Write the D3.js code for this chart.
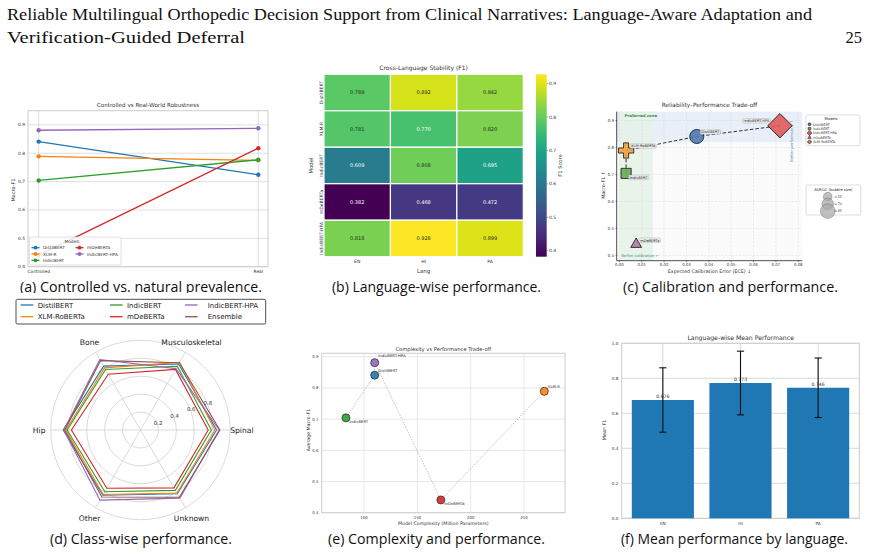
<!DOCTYPE html>
<html>
<head>
<meta charset="utf-8">
<script src="https://cdn.jsdelivr.net/npm/d3@7"></script>
<style>
  body { margin: 0; background: #fff; }
  svg { display: block; }
  text { font-family: "DejaVu Sans", sans-serif; }
</style>
</head>
<body>
<svg id="fig" width="870" height="554"></svg>
<script>
// ---- data ----
var modelColors = d3.schemeCategory10;

// (a) controlled vs real
var robustModels = ["DistilBERT", "XLM-R", "IndicBERT", "mDeBERTa", "IndicBERT-HPA"];
var robustSettings = ["Controlled", "Real"];
var robustF1 = [[0.841, 0.724], [0.789, 0.775], [0.704, 0.777], [0.441, 0.818], [0.881, 0.888]];

// (b) heatmap
var heatModels = ["DistilBERT", "XLM-R", "IndicBERT", "mDeBERTa", "IndicBERT-HPA"];
var heatLangs = ["EN", "HI", "PA"];
var heatF1 = [
  [0.789, 0.892, 0.842],
  [0.781, 0.770, 0.820],
  [0.609, 0.808, 0.695],
  [0.382, 0.468, 0.472],
  [0.818, 0.928, 0.899]
];

// (c) calibration vs performance
var calModels = ["DistilBERT", "IndicBERT", "IndicBERT-HPA", "mDeBERTa", "XLM-RoBERTa"];
var calECE = [0.0346, 0.0030, 0.0718, 0.0075, 0.0030];
var calF1 = [0.841, 0.704, 0.881, 0.441, 0.789];
var calAUROC = [0.82, 0.69, 0.86, 0.55, 0.73];
var calFrontier = ["IndicBERT", "XLM-RoBERTa", "DistilBERT", "IndicBERT-HPA"];
var aurocLegend = [0.55, 0.70, 0.85];

// (d) class-wise radar
var radarClasses = ["Spinal", "Musculoskeletal", "Bone", "Hip", "Other", "Unknown"];
var radarModels = ["DistilBERT", "XLM-RoBERTa", "IndicBERT", "mDeBERTa", "IndicBERT-HPA", "Ensemble"];
var radarF1 = [
  [0.848, 0.850, 0.822, 0.862, 0.840, 0.820],
  [0.829, 0.870, 0.800, 0.833, 0.830, 0.812],
  [0.790, 0.820, 0.779, 0.818, 0.795, 0.777],
  [0.755, 0.780, 0.718, 0.770, 0.750, 0.745],
  [0.877, 0.790, 0.907, 0.855, 0.903, 0.877],
  [0.885, 0.865, 0.893, 0.844, 0.862, 0.865]
];
var radarTicks = [0.2, 0.4, 0.6, 0.8];

// (e) complexity vs performance
var cxModels = ["IndicBERT", "DistilBERT", "IndicBERT-HPA", "mDeBERTa", "XLM-R"];
var cxParams = [83, 110, 110, 172, 269];
var cxF1 = [0.704, 0.841, 0.881, 0.441, 0.789];
var cxColors = ["#2ca02c", "#1f77b4", "#9467bd", "#d62728", "#ff7f0e"];

// (f) language means
var langNames = ["EN", "HI", "PA"];
var langMean = [0.676, 0.773, 0.746];
var langStd = [0.184, 0.182, 0.170];

var svg = d3.select("#fig");
var txt = "#333";

// ---- header & captions ----
function serifLine(x, y, s, len, anchor) {
  var t = svg.append("text").attr("x", x).attr("y", y).text(s)
    .style("font-family", "'Liberation Serif', serif").style("font-size", "16.5px").attr("fill", "#111");
  if (len) t.attr("textLength", len).attr("lengthAdjust", "spacingAndGlyphs");
  if (anchor) t.attr("text-anchor", anchor);
}
serifLine(7, 20, "Reliable Multilingual Orthopedic Decision Support from Clinical Narratives: Language-Aware Adaptation and", 805);
serifLine(7, 43, "Verification-Guided Deferral", 238);
serifLine(862, 43, "25", null, "end");

function caption(x, y, s, len) {
  svg.append("text").attr("x", x).attr("y", y).text(s)
    .style("font-family", "'Open Sans', sans-serif").style("font-size", "14px").attr("fill", "#111")
    .attr("textLength", len).attr("lengthAdjust", "spacingAndGlyphs");
}
caption(20, 292, "(a) Controlled vs. natural prevalence.", 242);
caption(332, 292, "(b) Language-wise performance.", 209);
caption(623, 292, "(c) Calibration and performance.", 215);
caption(50, 544, "(d) Class-wise performance.", 182);
caption(328, 544, "(e) Complexity and performance.", 217);
caption(621, 544, "(f) Mean performance by language.", 227);

// ---- (a) ----
(function () {
  var g = svg.append("g");
  var x = d3.scalePoint().domain(robustSettings).range([38.7, 258.3]);
  var y = d3.scaleLinear().domain([0.4, 0.95]).range([266.7, 110.7]);
  var x0 = 28, x1 = 268;
  g.selectAll(".gy").data(y.ticks(6)).enter().append("line")
    .attr("x1", x0).attr("x2", x1).attr("y1", y).attr("y2", y).attr("stroke", "#d5d5d5").attr("stroke-width", 0.8);
  g.selectAll(".gx").data(robustSettings).enter().append("line")
    .attr("x1", x).attr("x2", x).attr("y1", 110.7).attr("y2", 266.7).attr("stroke", "#d5d5d5").attr("stroke-width", 0.8);
  g.append("rect").attr("x", x0).attr("y", 110.7).attr("width", x1 - x0).attr("height", 156)
    .attr("fill", "none").attr("stroke", "#ccc").attr("stroke-width", 1);
  g.selectAll(".ty").data(y.ticks(6)).enter().append("text")
    .attr("x", 25).attr("y", function (d) { return y(d) + 1.5; }).attr("text-anchor", "end")
    .style("font-size", "4.4px").attr("fill", txt).text(d3.format(".1f"));
  g.selectAll(".tx").data(robustSettings).enter().append("text")
    .attr("x", x).attr("y", 273).attr("text-anchor", "middle")
    .style("font-size", "4.4px").attr("fill", txt).text(function (d) { return d; });
  g.append("text").attr("transform", "translate(15,190) rotate(-90)").attr("text-anchor", "middle")
    .style("font-size", "5px").attr("fill", txt).text("Macro-F1");
  g.append("text").attr("x", 148).attr("y", 106.5).attr("text-anchor", "middle")
    .style("font-size", "5.6px").attr("fill", txt).text("Controlled vs Real-World Robustness");

  var line = d3.line().x(function (d, i) { return x(robustSettings[i]); }).y(function (d) { return y(d); });
  robustModels.forEach(function (m, k) {
    g.append("path").attr("d", line(robustF1[k])).attr("fill", "none")
      .attr("stroke", modelColors[k]).attr("stroke-width", 1.3);
    g.selectAll(".p" + k).data(robustF1[k]).enter().append("circle")
      .attr("cx", function (d, i) { return x(robustSettings[i]); }).attr("cy", y)
      .attr("r", 2.2).attr("fill", modelColors[k]);
  });

  // legend
  var lg = g.append("g");
  lg.append("rect").attr("x", 29.5).attr("y", 237).attr("width", 91.5).attr("height", 28).attr("rx", 1.5)
    .attr("fill", "white").attr("fill-opacity", 0.85).attr("stroke", "#ccc").attr("stroke-width", 0.6);
  lg.append("text").attr("x", 72).attr("y", 243).attr("text-anchor", "middle")
    .style("font-size", "4.3px").attr("fill", txt).text("Models");
  robustModels.forEach(function (m, k) {
    var cx = k < 3 ? 31.5 : 75.5, cy = 247.7 + (k % 3) * 6.3;
    lg.append("line").attr("x1", cx).attr("x2", cx + 8).attr("y1", cy).attr("y2", cy)
      .attr("stroke", modelColors[k]).attr("stroke-width", 1.3);
    lg.append("circle").attr("cx", cx + 4).attr("cy", cy).attr("r", 1.9).attr("fill", modelColors[k]);
    lg.append("text").attr("x", cx + 11.5).attr("y", cy + 1.5).style("font-size", "4.3px").attr("fill", txt).text(m);
  });
})();

// ---- (b) heatmap ----
(function () {
  var g = svg.append("g");
  var x = d3.scaleBand().domain(heatLangs).range([324, 523.3]);
  var y = d3.scaleBand().domain(heatModels).range([74.3, 256.7]);
  var cmin = d3.min(heatF1, function (r) { return d3.min(r); });
  var cmax = d3.max(heatF1, function (r) { return d3.max(r); });
  var color = d3.scaleSequential(d3.interpolateViridis).domain([cmin, cmax]);
  function lum(c) {
    var rgb = d3.rgb(c);
    var f = function (v) { v /= 255; return v <= 0.03928 ? v / 12.92 : Math.pow((v + 0.055) / 1.055, 2.4); };
    return 0.2126 * f(rgb.r) + 0.7152 * f(rgb.g) + 0.0722 * f(rgb.b);
  }
  var cells = [];
  heatModels.forEach(function (m, i) { heatLangs.forEach(function (l, j) { cells.push({ m: m, l: l, v: heatF1[i][j] }); }); });
  g.selectAll("rect.c").data(cells).enter().append("rect")
    .attr("x", function (d) { return x(d.l); }).attr("y", function (d) { return y(d.m); })
    .attr("width", x.bandwidth()).attr("height", y.bandwidth())
    .attr("fill", function (d) { return color(d.v); }).attr("stroke", "white").attr("stroke-width", 1.2);
  g.selectAll("text.v").data(cells).enter().append("text")
    .attr("x", function (d) { return x(d.l) + x.bandwidth() / 2; })
    .attr("y", function (d) { return y(d.m) + y.bandwidth() / 2 + 1.8; })
    .attr("text-anchor", "middle").style("font-size", "5px")
    .attr("fill", function (d) { return lum(color(d.v)) > 0.408 ? "#262626" : "white"; })
    .text(function (d) { return d3.format(".3f")(d.v); });
  g.selectAll("text.r").data(heatModels).enter().append("text")
    .attr("transform", function (d) { return "translate(322.5," + (y(d) + y.bandwidth() / 2) + ") rotate(-90)"; })
    .attr("text-anchor", "middle").style("font-size", "4.6px").attr("fill", txt).text(function (d) { return d; });
  g.selectAll("text.l").data(heatLangs).enter().append("text")
    .attr("x", function (d) { return x(d) + x.bandwidth() / 2; }).attr("y", 263)
    .attr("text-anchor", "middle").style("font-size", "4.6px").attr("fill", txt).text(function (d) { return d; });
  g.append("text").attr("x", 423.6).attr("y", 272.5).attr("text-anchor", "middle")
    .style("font-size", "5.4px").attr("fill", txt).text("Lang");
  g.append("text").attr("transform", "translate(312.5,165.5) rotate(-90)").attr("text-anchor", "middle")
    .style("font-size", "5.4px").attr("fill", txt).text("Model");
  g.append("text").attr("x", 423.6).attr("y", 70).attr("text-anchor", "middle")
    .style("font-size", "6px").attr("fill", txt).text("Cross-Language Stability (F1)");

  // colorbar
  var cy = d3.scaleLinear().domain([cmin, cmax]).range([256.7, 74.3]);
  var grad = svg.append("defs").append("linearGradient").attr("id", "vir")
    .attr("x1", 0).attr("x2", 0).attr("y1", 1).attr("y2", 0);
  d3.range(0, 1.001, 0.05).forEach(function (t) {
    grad.append("stop").attr("offset", t).attr("stop-color", d3.interpolateViridis(t));
  });
  g.append("rect").attr("x", 536).attr("y", 74.3).attr("width", 10.7).attr("height", 182.4).attr("fill", "url(#vir)");
  var ct = [0.4, 0.5, 0.6, 0.7, 0.8, 0.9];
  g.selectAll("line.ct").data(ct).enter().append("line")
    .attr("x1", 546.7).attr("x2", 548.2).attr("y1", cy).attr("y2", cy).attr("stroke", "#444").attr("stroke-width", 0.5);
  g.selectAll("text.ct").data(ct).enter().append("text")
    .attr("x", 549).attr("y", function (d) { return cy(d) + 1.6; })
    .style("font-size", "4.5px").attr("fill", txt).text(d3.format(".1f"));
  g.append("text").attr("transform", "translate(562,165.5) rotate(-90)").attr("text-anchor", "middle")
    .style("font-size", "5.2px").attr("fill", txt).text("F1 Score");
})();

// ---- (c) reliability vs performance ----
(function () {
  var g = svg.append("g");
  var x = d3.scaleLinear().domain([-0.0012, 0.0818]).range([616.7, 802.3]);
  var y = d3.scaleLinear().domain([0.380, 0.933]).range([260.7, 111.7]);
  var L = 616.7, R = 802.3, T = 111.7, B = 260.7;
  g.append("rect").attr("x", L).attr("y", T).attr("width", R - L).attr("height", B - T).attr("fill", "#fbfbfb");
  g.append("rect").attr("x", L).attr("y", T).attr("width", R - L).attr("height", y(0.82) - T).attr("fill", "#e4ecf7").attr("opacity", 0.8);
  g.append("rect").attr("x", x(0)).attr("y", T).attr("width", x(0.015) - x(0)).attr("height", B - T).attr("fill", "#e3f1e6").attr("opacity", 0.8);
  var xt = d3.range(0, 0.0801, 0.01), yt = [0.4, 0.5, 0.6, 0.7, 0.8, 0.9];
  g.selectAll("line.gx").data(xt).enter().append("line")
    .attr("x1", x).attr("x2", x).attr("y1", T).attr("y2", B)
    .attr("stroke", "#d8d8d8").attr("stroke-width", 0.5).attr("stroke-dasharray", "2,1.5");
  g.selectAll("line.gy").data(yt).enter().append("line")
    .attr("x1", L).attr("x2", R).attr("y1", y).attr("y2", y)
    .attr("stroke", "#d8d8d8").attr("stroke-width", 0.5).attr("stroke-dasharray", "2,1.5");
  g.append("line").attr("x1", L).attr("x2", L).attr("y1", T).attr("y2", B).attr("stroke", "#222").attr("stroke-width", 0.8);
  g.append("line").attr("x1", L).attr("x2", R).attr("y1", B).attr("y2", B).attr("stroke", "#222").attr("stroke-width", 0.8);
  g.selectAll("text.xt").data(xt).enter().append("text")
    .attr("x", x).attr("y", 266).attr("text-anchor", "middle")
    .style("font-size", "3.9px").attr("fill", txt).text(d3.format(".2f"));
  g.selectAll("text.yt").data(yt).enter().append("text")
    .attr("x", 614).attr("y", function (d) { return y(d) + 1.4; }).attr("text-anchor", "end")
    .style("font-size", "3.9px").attr("fill", txt).text(d3.format(".1f"));
  g.selectAll("line.xtk").data(xt).enter().append("line")
    .attr("x1", x).attr("x2", x).attr("y1", B).attr("y2", B + 1.3).attr("stroke", "#222").attr("stroke-width", 0.5);
  g.selectAll("line.ytk").data(yt).enter().append("line")
    .attr("x1", L - 1.3).attr("x2", L).attr("y1", y).attr("y2", y).attr("stroke", "#222").attr("stroke-width", 0.5);
  g.append("text").attr("x", 709.5).attr("y", 273).attr("text-anchor", "middle")
    .style("font-size", "4.8px").attr("fill", txt).text("Expected Calibration Error (ECE) \u2193");
  g.append("text").attr("transform", "translate(605,185) rotate(-90)").attr("text-anchor", "middle")
    .style("font-size", "4.8px").attr("fill", txt).text("Macro-F1 \u2191");
  g.append("text").attr("x", 709.5).attr("y", 107).attr("text-anchor", "middle")
    .style("font-size", "5.8px").attr("fill", txt).text("Reliability\u2013Performance Trade-off");
  g.append("text").attr("x", 624.5).attr("y", 116.5).style("font-size", "3.9px").style("font-weight", "bold")
    .attr("fill", "#3d8a4d").text("Preferred zone");
  g.append("text").attr("x", 621.5).attr("y", 257).style("font-size", "3.8px")
    .attr("fill", "#3a9a7a").text("Better calibration \u2190");
  g.append("text").attr("transform", "translate(793,141) rotate(-90)").attr("text-anchor", "middle")
    .style("font-size", "3.8px").attr("fill", "#6a8cc0").text("Better performance \u2191");

  var shapes = {
    "DistilBERT": { t: d3.symbolCircle, c: "#4f79b3", k: 1.0, rot: 0 },
    "IndicBERT": { t: d3.symbolSquare, c: "#66aa55", k: 1.0, rot: 0 },
    "IndicBERT-HPA": { t: d3.symbolSquare, c: "#e05a5a", k: 1.7, rot: 45 },
    "mDeBERTa": { t: d3.symbolTriangle, c: "#b07aa8", k: 0.85, rot: 0 },
    "XLM-RoBERTa": { t: d3.symbolCross, c: "#f0a040", k: 1.1, rot: 0 }
  };
  var size = d3.scalePow().exponent(2.4).domain([0, 1]).range([0, 250]);

  var idx = {};
  calModels.forEach(function (m, i) { idx[m] = i; });
  var fl = d3.line().x(function (m) { return x(calECE[idx[m]]); }).y(function (m) { return y(calF1[idx[m]]); });
  g.append("path").attr("d", fl(calFrontier)).attr("fill", "none").attr("stroke", "#333")
    .attr("stroke-width", 1).attr("stroke-dasharray", "3.5,2");

  calModels.forEach(function (m, i) {
    var s = shapes[m];
    g.append("path").attr("d", d3.symbol().type(s.t).size(size(calAUROC[i]) * s.k)())
      .attr("transform", "translate(" + x(calECE[i]) + "," + y(calF1[i]) + ") rotate(" + s.rot + ")")
      .attr("fill", s.c).attr("fill-opacity", 0.9).attr("stroke", "#111").attr("stroke-width", 0.8);
  });

  // point labels
  var labelOff = {
    "DistilBERT": [4.5, -4.5, "start"], "IndicBERT": [3.5, 4, "start"], "IndicBERT-HPA": [-10.5, -4.8, "end"],
    "mDeBERTa": [4, -4, "start"], "XLM-RoBERTa": [5, -4.5, "start"]
  };
  calModels.forEach(function (m, i) {
    var o = labelOff[m];
    var lx = x(calECE[i]) + o[0], ly = y(calF1[i]) + o[1];
    var bg = g.append("rect");
    var t = g.append("text").attr("x", lx).attr("y", ly + 1.3).attr("text-anchor", o[2])
      .style("font-size", "3.6px").attr("fill", "#222").text(m);
    var w = t.node().getComputedTextLength();
    var bx = o[2] === "end" ? lx - w : lx;
    bg.attr("x", bx - 1).attr("y", ly - 2.3).attr("width", w + 2).attr("height", 4.6).attr("rx", 0.8)
      .attr("fill", "#f0f0f0").attr("fill-opacity", 0.9).attr("stroke", "#999").attr("stroke-width", 0.35);
  });

  // legend: models
  var lg = g.append("g");
  lg.append("rect").attr("x", 806).attr("y", 115).attr("width", 54).attr("height", 30.7).attr("rx", 1.2)
    .attr("fill", "white").attr("stroke", "#bbb").attr("stroke-width", 0.5);
  lg.append("text").attr("x", 831).attr("y", 120.3).attr("text-anchor", "middle")
    .style("font-size", "3.7px").attr("fill", "#222").text("Models");
  calModels.forEach(function (m, i) {
    var s = shapes[m], yy = 124.3 + i * 4.4;
    lg.append("path").attr("d", d3.symbol().type(s.t).size(7 * s.k)())
      .attr("transform", "translate(809.5," + yy + ") rotate(" + s.rot + ")")
      .attr("fill", s.c).attr("stroke", "#111").attr("stroke-width", 0.5);
    lg.append("text").attr("x", 813).attr("y", yy + 1.2).style("font-size", "3.3px").attr("fill", "#333").text(m);
  });

  // legend: bubble sizes
  var bl = g.append("g");
  bl.append("rect").attr("x", 806).attr("y", 185).attr("width", 54.7).attr("height", 30).attr("rx", 1.2)
    .attr("fill", "white").attr("stroke", "#bbb").attr("stroke-width", 0.5);
  bl.append("text").attr("x", 833.3).attr("y", 190.6).attr("text-anchor", "middle")
    .style("font-size", "3.7px").attr("fill", "#222").text("AUROC (bubble size)");
  aurocLegend.forEach(function (a, i) {
    var yy = 196.7 + i * 7.2;
    bl.append("circle").attr("cx", 827.7).attr("cy", yy).attr("r", Math.sqrt(size(a) / Math.PI))
      .attr("fill", "#aaa").attr("fill-opacity", 0.75).attr("stroke", "#666").attr("stroke-width", 0.4);
    bl.append("text").attr("x", 834.5).attr("y", yy + 1.2).style("font-size", "3.3px").attr("fill", "#333")
      .text(d3.format(".2f")(a));
  });
})();

// ---- (d) radar ----
(function () {
  var g = svg.append("g");
  // white image background hiding the bottom of caption (a)
  g.append("rect").attr("x", 0).attr("y", 293).attr("width", 296).attr("height", 8).attr("fill", "white");
  var cx = 140.5, cy = 430;
  var r = d3.scaleLinear().domain([0, 1]).range([0, 89.7]);
  var ang = function (i) { return i * Math.PI / 3; };
  var c = g.append("g").attr("transform", "translate(" + cx + "," + cy + ")");
  c.selectAll("circle.ring").data([0.2, 0.4, 0.6, 0.8, 1.0]).enter().append("circle")
    .attr("r", r).attr("fill", "none").attr("stroke", "#d0d0d0").attr("stroke-width", 0.8);
  c.selectAll("line.spoke").data(radarClasses).enter().append("line")
    .attr("x1", 0).attr("y1", 0)
    .attr("x2", function (d, i) { return r(1) * Math.cos(ang(i)); })
    .attr("y2", function (d, i) { return -r(1) * Math.sin(ang(i)); })
    .attr("stroke", "#d0d0d0").attr("stroke-width", 0.8);
  var rl = 22.5 * Math.PI / 180;
  c.selectAll("text.rt").data(radarTicks).enter().append("text")
    .attr("x", function (d) { return r(d) * Math.cos(rl) + 1; })
    .attr("y", function (d) { return -r(d) * Math.sin(rl) + 2; })
    .attr("text-anchor", "middle").style("font-size", "5.4px").attr("fill", txt).text(d3.format(".1f"));
  radarClasses.forEach(function (k, i) {
    var co = Math.cos(ang(i)), si = Math.sin(ang(i));
    var horiz = Math.abs(co) > 0.9;
    var lx = horiz ? (co > 0 ? r(1) : -r(1) - 5.3) : 102 * co;
    var ly = horiz ? 2.6 : -102 * si + 3;
    c.append("text").attr("x", lx).attr("y", ly)
      .attr("text-anchor", horiz ? (co > 0 ? "start" : "end") : "middle")
      .style("font-size", "7.6px").attr("fill", "#222").text(k);
  });
  var radial = d3.lineRadial()
    .angle(function (d, i) { return Math.PI / 2 - ang(i); })
    .radius(function (d) { return r(d); })
    .curve(d3.curveLinearClosed);
  radarModels.forEach(function (m, k) {
    c.append("path").attr("d", radial(radarF1[k])).attr("fill", "none")
      .attr("stroke", modelColors[k]).attr("stroke-width", 1.1);
  });

  // legend
  var lg = g.append("g");
  lg.append("rect").attr("x", 16).attr("y", 299.3).attr("width", 249.7).attr("height", 24.7).attr("rx", 1.5)
    .attr("fill", "white").attr("stroke", "#222").attr("stroke-width", 0.8);
  var colX = [20.7, 110, 185];
  radarModels.forEach(function (m, k) {
    var lx = colX[Math.floor(k / 2)], ly = 305 + (k % 2) * 11.7;
    lg.append("line").attr("x1", lx).attr("x2", lx + 12.6).attr("y1", ly).attr("y2", ly)
      .attr("stroke", modelColors[k]).attr("stroke-width", 1.3);
    lg.append("text").attr("x", lx + (k < 4 ? 17 : 22.7)).attr("y", ly + 2.5).style("font-size", "7px")
      .attr("fill", "#222").text(m);
  });
})();

// ---- (e) complexity ----
(function () {
  var g = svg.append("g");
  var L = 321.7, R = 565, T = 353.3, B = 512.7;
  var x = d3.scaleLinear().domain([60.3, 288.4]).range([L, R]);
  var y = d3.scaleLinear().domain([0.4, 0.911]).range([B, T]);
  var xt = [100, 150, 200, 250], yt = [0.4, 0.5, 0.6, 0.7, 0.8, 0.9];
  g.selectAll("line.gx").data(xt).enter().append("line")
    .attr("x1", x).attr("x2", x).attr("y1", T).attr("y2", B).attr("stroke", "#e2e2e2").attr("stroke-width", 0.8);
  g.selectAll("line.gy").data(yt).enter().append("line")
    .attr("x1", L).attr("x2", R).attr("y1", y).attr("y2", y).attr("stroke", "#e2e2e2").attr("stroke-width", 0.8);
  g.append("rect").attr("x", L).attr("y", T).attr("width", R - L).attr("height", B - T)
    .attr("fill", "none").attr("stroke", "#ccc").attr("stroke-width", 1);
  g.selectAll("text.xt").data(xt).enter().append("text")
    .attr("x", x).attr("y", 518.5).attr("text-anchor", "middle").style("font-size", "3.9px").attr("fill", txt).text(String);
  g.selectAll("text.yt").data(yt).enter().append("text")
    .attr("x", 318.5).attr("y", function (d) { return y(d) + 1.4; }).attr("text-anchor", "end")
    .style("font-size", "3.9px").attr("fill", txt).text(d3.format(".1f"));
  g.append("text").attr("x", 443.3).attr("y", 524.5).attr("text-anchor", "middle")
    .style("font-size", "4.7px").attr("fill", txt).text("Model Complexity (Million Parameters)");
  g.append("text").attr("transform", "translate(310,430) rotate(-90)").attr("text-anchor", "middle")
    .style("font-size", "4.7px").attr("fill", txt).text("Average Macro-F1");
  g.append("text").attr("x", 443.3).attr("y", 351).attr("text-anchor", "middle")
    .style("font-size", "5.2px").attr("fill", txt).text("Complexity vs Performance Trade-off");

  var pts = cxModels.map(function (m, i) { return [x(cxParams[i]), y(cxF1[i])]; });
  g.append("path").attr("d", d3.line()(pts)).attr("fill", "none").attr("stroke", "#999")
    .attr("stroke-width", 0.6).attr("stroke-dasharray", "1.5,1.2");
  g.selectAll("circle.p").data(cxModels).enter().append("circle")
    .attr("cx", function (d, i) { return x(cxParams[i]); }).attr("cy", function (d, i) { return y(cxF1[i]); })
    .attr("r", 4).attr("fill", function (d, i) { return cxColors[i]; }).attr("fill-opacity", 0.9)
    .attr("stroke", "#333").attr("stroke-width", 0.8);
  var off = [[3.5, 5], [3.5, -3.5], [3.5, -5.5], [3.5, 5], [3.5, -3.5]];
  g.selectAll("text.pl").data(cxModels).enter().append("text")
    .attr("x", function (d, i) { return x(cxParams[i]) + off[i][0]; })
    .attr("y", function (d, i) { return y(cxF1[i]) + off[i][1]; })
    .style("font-size", "3.8px").attr("fill", txt).text(String);
})();

// ---- (f) language means ----
(function () {
  var g = svg.append("g");
  var L = 621.7, R = 859.3, T = 343.3, B = 518.3;
  var x = d3.scaleBand().domain(langNames).range([L, R]).paddingInner(0.2).paddingOuter(0.13);
  var y = d3.scaleLinear().domain([0, 1]).range([B, T]);
  var yt = y.ticks(5);
  g.selectAll("line.gy").data(yt).enter().append("line")
    .attr("x1", L).attr("x2", R).attr("y1", y).attr("y2", y).attr("stroke", "#d0d0d0").attr("stroke-width", 0.8);
  g.selectAll("line.gx").data(langNames).enter().append("line")
    .attr("x1", function (d) { return x(d) + x.bandwidth() / 2; }).attr("x2", function (d) { return x(d) + x.bandwidth() / 2; })
    .attr("y1", T).attr("y2", B).attr("stroke", "#d0d0d0").attr("stroke-width", 0.8);
  g.append("rect").attr("x", L).attr("y", T).attr("width", R - L).attr("height", B - T)
    .attr("fill", "none").attr("stroke", "#ccc").attr("stroke-width", 1);
  g.selectAll("rect.b").data(langNames).enter().append("rect")
    .attr("x", function (d) { return x(d); }).attr("width", x.bandwidth())
    .attr("y", function (d, i) { return y(langMean[i]); })
    .attr("height", function (d, i) { return B - y(langMean[i]); }).attr("fill", "#1f77b4");
  langNames.forEach(function (d, i) {
    var cx = x(d) + x.bandwidth() / 2;
    g.append("text").attr("x", cx).attr("y", y(langMean[i]) - 2.2).attr("text-anchor", "middle")
      .style("font-size", "4.6px").attr("fill", txt).text(d3.format(".3f")(langMean[i]));
    var lo = y(langMean[i] - langStd[i]), hi = y(langMean[i] + langStd[i]);
    g.append("line").attr("x1", cx).attr("x2", cx).attr("y1", lo).attr("y2", hi).attr("stroke", "#111").attr("stroke-width", 1.1);
    g.append("line").attr("x1", cx - 3.6).attr("x2", cx + 3.6).attr("y1", lo).attr("y2", lo).attr("stroke", "#111").attr("stroke-width", 1.1);
    g.append("line").attr("x1", cx - 3.6).attr("x2", cx + 3.6).attr("y1", hi).attr("y2", hi).attr("stroke", "#111").attr("stroke-width", 1.1);
  });
  g.selectAll("text.yt").data(yt).enter().append("text")
    .attr("x", 618.5).attr("y", function (d) { return y(d) + 1.5; }).attr("text-anchor", "end")
    .style("font-size", "4.2px").attr("fill", txt).text(d3.format(".1f"));
  g.selectAll("text.xt").data(langNames).enter().append("text")
    .attr("x", function (d) { return x(d) + x.bandwidth() / 2; }).attr("y", 524.5).attr("text-anchor", "middle")
    .style("font-size", "4.3px").attr("fill", txt).text(String);
  g.append("text").attr("transform", "translate(606,430) rotate(-90)").attr("text-anchor", "middle")
    .style("font-size", "4.8px").attr("fill", txt).text("Mean F1");
  g.append("text").attr("x", 740.7).attr("y", 339.5).attr("text-anchor", "middle")
    .style("font-size", "6.2px").attr("fill", txt).text("Language-wise Mean Performance");
})();
</script>
</body>
</html>
